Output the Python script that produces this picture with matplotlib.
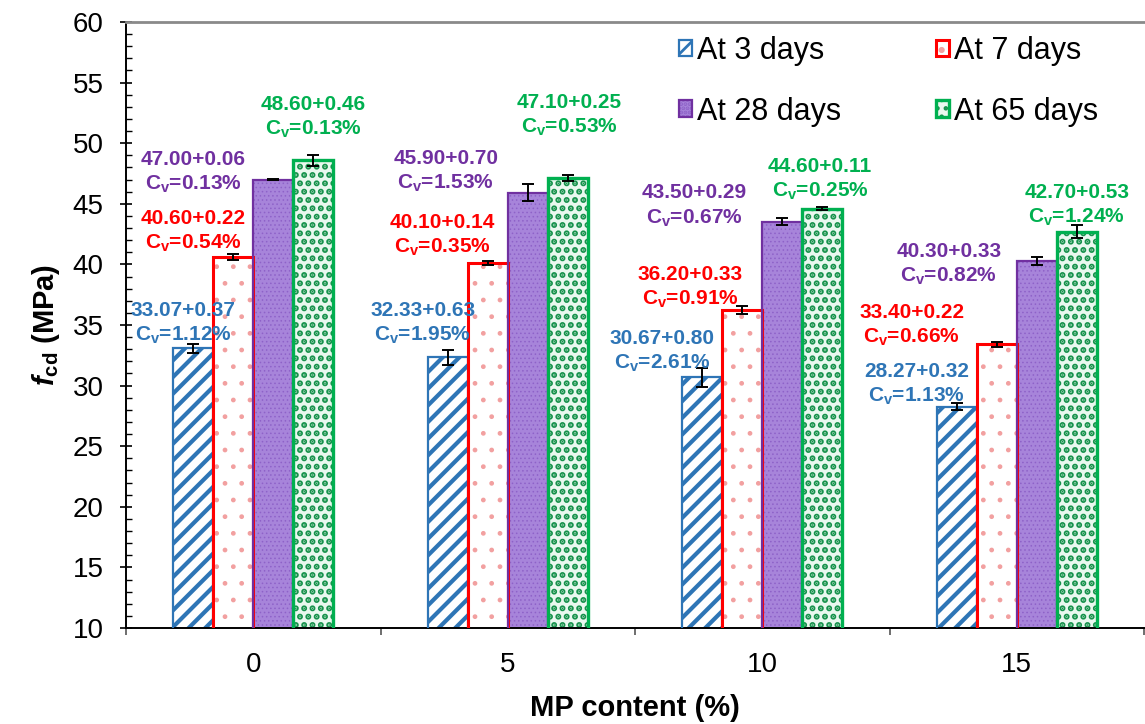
import numpy as np
import matplotlib.pyplot as plt
from matplotlib.ticker import MultipleLocator, FixedLocator

plt.rcParams['font.family'] = ['Liberation Sans', 'DejaVu Sans']
plt.rcParams['mathtext.fontset'] = 'custom'
plt.rcParams['mathtext.rm'] = 'Liberation Sans'
plt.rcParams['mathtext.bf'] = 'Liberation Sans:bold'
plt.rcParams['mathtext.it'] = 'Liberation Sans:italic:bold'
plt.rcParams['hatch.linewidth'] = 2.0

# data
mp_content = ['0', '5', '10', '15']
ages = ['At 3 days', 'At 7 days', 'At 28 days', 'At 65 days']

fcd_3d = [33.07, 32.33, 30.67, 28.27]
fcd_7d = [40.60, 40.10, 36.20, 33.40]
fcd_28d = [47.00, 45.90, 43.50, 40.30]
fcd_65d = [48.60, 47.10, 44.60, 42.70]

sd_3d = [0.37, 0.63, 0.80, 0.32]
sd_7d = [0.22, 0.14, 0.33, 0.22]
sd_28d = [0.06, 0.70, 0.29, 0.33]
sd_65d = [0.46, 0.25, 0.11, 0.53]

cv_3d = [1.12, 1.95, 2.61, 1.13]
cv_7d = [0.54, 0.35, 0.91, 0.66]
cv_28d = [0.13, 1.53, 0.67, 0.82]
cv_65d = [0.13, 0.53, 0.25, 1.24]

means = [fcd_3d, fcd_7d, fcd_28d, fcd_65d]
sds = [sd_3d, sd_7d, sd_28d, sd_65d]
cvs = [cv_3d, cv_7d, cv_28d, cv_65d]

# styling per series
edge_colors = ['#2E75B6', '#FF0000', '#7030A0', '#00B050']
face_colors = ['white', 'white', '#A784DA', '#EAF8EF']
hatch_colors = ['#2E75B6', '#F2A0A0', '#8E62C8', '#17924C']
hatches = ['//', '.', '....', '..']
hatch_lw = [3.0, 1.0, 0.6, 3.0]
edge_lw = [1.6, 2.2, 1.6, 2.4]

# label offsets (pixels) from bar top centre to label block centre
label_dx = [[-10, -25, -40, -40],
            [-40, -45, -52, -85],
            [-80, -82, -88, -88],
            [0, 2, -2, 0]]
label_dy = [[25, 34, 26, 22],
            [26, 28, 23, 19],
            [7, 21, 16, -4],
            [43, 63, 29, 26]]

fig = plt.figure(figsize=(11.45, 7.24), dpi=100)
ax = fig.add_axes([126 / 1145, 96 / 724, 1018 / 1145, 606 / 724])

x = np.arange(len(mp_content))
w = 40 / 255
handles = []
for i in range(4):
    xs = x + (i - 1.5) * w
    fill = ax.bar(xs, means[i], w, color=face_colors[i], edgecolor=hatch_colors[i],
                  hatch=hatches[i], linewidth=0, zorder=2)
    for p in fill:
        if hasattr(p, 'set_hatch_linewidth'):
            p.set_hatch_linewidth(hatch_lw[i])
    outline = ax.bar(xs, means[i], w, fill=False, edgecolor=edge_colors[i],
                     linewidth=edge_lw[i], zorder=3,
                     yerr=sds[i], capsize=4,
                     error_kw=dict(ecolor='black', elinewidth=1.4, capthick=1.4, zorder=4))
    handles.append((fill, outline))
    for j in range(4):
        txt = '%.2f+%.2f\nC$_\\mathbf{v}$=%.2f%%' % (means[i][j], sds[i][j], cvs[i][j])
        ax.annotate(txt, xy=(xs[j], means[i][j]),
                    xytext=(label_dx[i][j] * 0.72, label_dy[i][j] * 0.72),
                    textcoords='offset points', ha='center', va='center',
                    color=edge_colors[i], fontsize=15, fontweight='bold',
                    linespacing=1.3, zorder=5)

ax.set_xlim(-0.5, 3.5)
ax.set_ylim(10, 60)
ax.set_xticks(x)
ax.set_xticklabels(mp_content)
ax.xaxis.set_minor_locator(FixedLocator(np.arange(-0.5, 4.0, 1.0)))
ax.yaxis.set_major_locator(MultipleLocator(5))
ax.yaxis.set_minor_locator(MultipleLocator(1))

ax.tick_params(axis='y', which='major', direction='inout', length=8, width=1.2,
               labelsize=20, pad=12, colors='black')
ax.tick_params(axis='y', which='minor', direction='in', length=4, width=1.0)
ax.tick_params(axis='x', which='major', length=0, labelsize=20, pad=17)
ax.tick_params(axis='x', which='minor', direction='out', length=5, width=1.2, color='#555555')

ax.spines['right'].set_visible(False)
ax.spines['top'].set_color('#8a8a8a')
ax.spines['top'].set_linewidth(2)
ax.spines['left'].set_linewidth(1.4)
ax.spines['bottom'].set_linewidth(1.4)

ax.set_xlabel('MP content (%)', fontsize=21, fontweight='bold', labelpad=12)
ax.set_ylabel('$f_\\mathbf{cd}$ (MPa)', fontsize=21, fontweight='bold', labelpad=8)

order = [0, 2, 1, 3]
ax.legend([handles[k] for k in order], [ages[k] for k in order], ncol=2,
          loc='upper right', bbox_to_anchor=(0.967, 0.997), borderaxespad=0,
          frameon=False, fontsize=22, handlelength=0.45, handleheight=0.45,
          handletextpad=0.15, columnspacing=3.1, labelspacing=1.0)

fig.savefig('out.png', dpi=100)
